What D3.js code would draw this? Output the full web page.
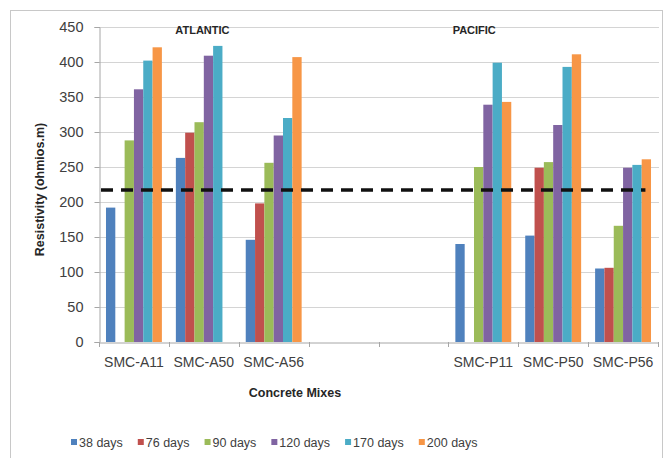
<!DOCTYPE html>
<html>
<head>
<meta charset="utf-8">
<script src="https://cdn.jsdelivr.net/npm/d3@7"></script>
<style>
  html, body { margin: 0; padding: 0; background: #fff; }
  svg { display: block; font-family: "Liberation Sans", Arial, sans-serif; }
</style>
</head>
<body>
<svg id="chart" width="671" height="458"></svg>
<script>
// Concrete mixes (two empty slots separate the two exposure sites)
const categories = ["SMC-A11", "SMC-A50", "SMC-A56", "", "", "SMC-P11", "SMC-P50", "SMC-P56"];
const seriesNames = ["38 days", "76 days", "90 days", "120 days", "170 days", "200 days"];
const seriesColors = ["#4F81BD", "#C0504D", "#9BBB59", "#8064A2", "#4BACC6", "#F79646"];

// Resistivity (ohm·m) per mix, one array per curing age; null = not measured
const days38  = [192, 263, 146, null, null, 140, 152, 105];
const days76  = [null, 299, 198, null, null, null, 249, 106];
const days90  = [288, 314, 256, null, null, 250, 257, 166];
const days120 = [361, 409, 295, null, null, 339, 310, 249];
const days170 = [402, 423, 320, null, null, 399, 393, 253];
const days200 = [421, null, 407, null, null, 343, 411, 261];
const seriesValues = [days38, days76, days90, days120, days170, days200];

const yTicks = [0, 50, 100, 150, 200, 250, 300, 350, 400, 450];
const threshold = 217;
// site captions, placed over the mix they are written above
const siteLabels = [
  { text: "ATLANTIC", at: 1 },
  { text: "PACIFIC", at: 5 }
];

const svg = d3.select("#chart");
const plot = { left: 99, right: 659, top: 27, bottom: 342 };

// outer chart frame
svg.append("rect")
  .attr("x", 10.5).attr("y", 10.5)
  .attr("width", 652).attr("height", 460)
  .attr("fill", "#fff").attr("stroke", "#c8c8c8").attr("stroke-width", 1);

const idx = categories.map((_, i) => i);
const x = d3.scaleBand().domain(idx).range([plot.left, plot.right - 1]).paddingInner(0).paddingOuter(0);
const inner = d3.scaleBand().domain(d3.range(seriesNames.length))
  .range([0, x.bandwidth()]).paddingInner(0).paddingOuter(0.75);
const y = d3.scaleLinear().domain([0, 450]).range([plot.bottom, plot.top]);

// horizontal gridlines
svg.append("g")
  .selectAll("line")
  .data(yTicks.filter(t => t > 0))
  .join("line")
  .attr("x1", plot.left).attr("x2", plot.right)
  .attr("y1", d => Math.round(y(d)) + 0.5).attr("y2", d => Math.round(y(d)) + 0.5)
  .attr("stroke", "#d4d4d4").attr("stroke-width", 1.2);

// bars
const rows = [];
seriesValues.forEach((vals, s) => {
  vals.forEach((v, i) => { if (v != null) rows.push({ s, i, v }); });
});
svg.append("g")
  .selectAll("rect")
  .data(rows)
  .join("rect")
  .attr("x", d => x(d.i) + inner(d.s))
  .attr("width", inner.bandwidth())
  .attr("y", d => y(d.v))
  .attr("height", d => y(0) - y(d.v))
  .attr("fill", d => seriesColors[d.s]);

// y axis
const yAxis = svg.append("g")
  .attr("transform", `translate(${plot.left + 0.5},0)`)
  .call(d3.axisLeft(y).tickValues(yTicks).tickSize(5).tickPadding(11).tickFormat(d3.format("d")));
yAxis.select(".domain").attr("stroke", "#a6a6a6");
yAxis.selectAll(".tick line").attr("stroke", "#a6a6a6");
yAxis.selectAll("text").attr("fill", "#404040").style("font-size", "14.5px");

// x axis
const xAxis = svg.append("g")
  .attr("transform", `translate(0,${plot.bottom + 0.5})`)
  .call(d3.axisBottom(x).tickFormat(i => categories[i]).tickSize(0).tickPadding(15));
xAxis.select(".domain").attr("stroke", "#a6a6a6");
xAxis.selectAll("text").attr("fill", "#404040").style("font-size", "14px");
// tick marks sit on the category boundaries
const edges = d3.range(categories.length + 1)
  .map(i => i < categories.length ? x(i) : x(categories.length - 1) + x.bandwidth());
svg.append("g")
  .selectAll("line")
  .data(edges)
  .join("line")
  .attr("x1", d => Math.round(d) + 0.5)
  .attr("x2", d => Math.round(d) + 0.5)
  .attr("y1", plot.bottom).attr("y2", plot.bottom + 5)
  .attr("stroke", "#a6a6a6");

// threshold line
svg.append("line")
  .attr("x1", plot.left + 2)
  .attr("x2", x(categories.length - 1) + x.bandwidth() * 0.82)
  .attr("y1", y(threshold)).attr("y2", y(threshold))
  .attr("stroke", "#111").attr("stroke-width", 3.5)
  .attr("stroke-dasharray", "12,8");

// site captions, centred slightly left of the mix group
svg.append("g")
  .selectAll("text")
  .data(siteLabels)
  .join("text")
  .attr("x", (d, i) => x(d.at) + x.bandwidth() * (i === 0 ? 0.48 : 0.37))
  .attr("y", 34)
  .attr("text-anchor", "middle")
  .attr("font-weight", "bold")
  .attr("font-size", 11)
  .attr("fill", "#262626")
  .text(d => d.text);

// axis titles
svg.append("text")
  .attr("transform", `translate(44,${(plot.top + plot.bottom) / 2 + 5}) rotate(-90)`)
  .attr("text-anchor", "middle")
  .attr("font-weight", "bold")
  .attr("font-size", 12.5)
  .attr("fill", "#262626")
  .text("Resistivity (ohmios.m)");

svg.append("text")
  .attr("x", 295).attr("y", 397)
  .attr("text-anchor", "middle")
  .attr("font-weight", "bold")
  .attr("font-size", 12.5)
  .attr("fill", "#262626")
  .text("Concrete Mixes");

// legend
const legend = svg.append("g").attr("transform", "translate(71,442)");
let cx = 0;
seriesNames.forEach((name, s) => {
  const g = legend.append("g").attr("transform", `translate(${cx},0)`);
  g.append("rect").attr("x", 0).attr("y", -3).attr("width", 6).attr("height", 6).attr("fill", seriesColors[s]);
  const t = g.append("text").attr("x", 8).attr("y", 4.5)
    .attr("font-size", 12.5).attr("fill", "#404040").text(name);
  cx += 8 + t.node().getComputedTextLength() + 15;
});
</script>
</body>
</html>
